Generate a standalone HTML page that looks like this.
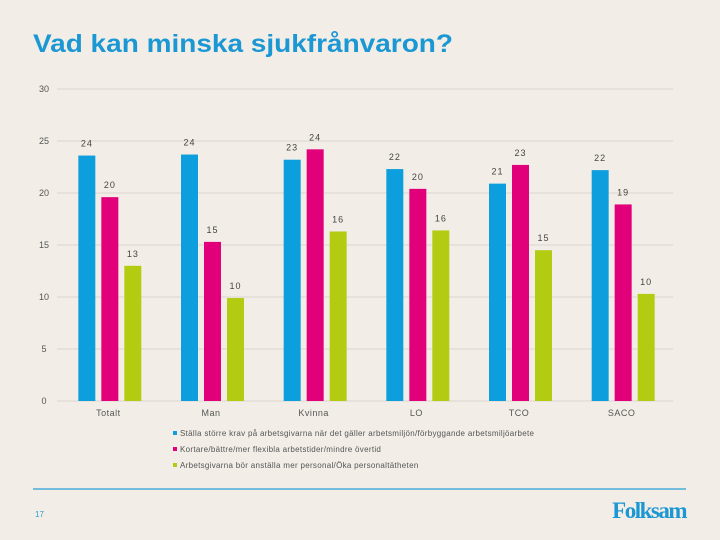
<!DOCTYPE html>
<html><head><meta charset="utf-8"><style>
body{margin:0;background:#f2eee7;}
#wrap{position:relative;width:720px;height:540px;overflow:hidden;background:#f2eee7;font-family:"Liberation Sans",sans-serif;}
</style></head><body>
<div id="wrap">
<svg id="chart" width="720" height="540">
<text x="33" y="52" font-size="25" font-weight="bold" fill="#1b97d3" textLength="420" lengthAdjust="spacingAndGlyphs" font-family="Liberation Sans, sans-serif">Vad kan minska sjukfrånvaron?</text>
<g id="grid"></g><g id="bars"></g>
<line x1="33" y1="489" x2="686" y2="489" stroke="#2a9fd6" stroke-width="1.2"/>
<text x="35" y="517" font-size="8" fill="#2a9fd6">17</text>
<text x="686" y="518" font-size="23" font-weight="bold" fill="#1b97d3" text-anchor="end" font-family="Liberation Serif, serif" letter-spacing="-1.5">Folksam</text>
</svg>
</div>
<script>
const categories=["Totalt","Man","Kvinna","LO","TCO","SACO"];
const seriesNames=["Ställa större krav på arbetsgivarna när det gäller arbetsmiljön/förbyggande arbetsmiljöarbete","Kortare/bättre/mer flexibla arbetstider/mindre övertid","Arbetsgivarna bör anställa mer personal/Öka personaltätheten"];
const seriesBlue=[23.6,23.7,23.2,22.3,20.9,22.2];
const seriesPink=[19.6,15.3,24.2,20.4,22.7,18.9];
const seriesGreen=[13.0,9.9,16.3,16.4,14.5,10.3];
const yTicks=[0,5,10,15,20,25,30];
const colors=["#0d9edd","#e2007a","#b3cc12"];
const NS="http://www.w3.org/2000/svg";
const x0=57,x1=673,y0=401,yTop=89,yMax=30;
const y=v=>y0-(y0-yTop)*v/yMax;
const band=(x1-x0)/categories.length;
function mk(t,a,p){const e=document.createElementNS(NS,t);for(const k in a)e.setAttribute(k,a[k]);p.appendChild(e);return e;}
const grid=document.getElementById('grid'),bars=document.getElementById('bars'),svg=document.getElementById('chart');
yTicks.forEach(t=>{
 const l=mk('line',{x1:x0,x2:x1,y1:y(t),y2:y(t),stroke:'#d9d4cc','stroke-width':1},grid);
 
 
 const tx=mk('text',{x:44,y:y(t)+3,'font-size':9,fill:'#555','text-anchor':'middle'},grid);
 tx.textContent=t;
 
 
});
const series=[seriesBlue,seriesPink,seriesGreen];
categories.forEach((c,i)=>{
 const cx=x0+band*(i+0.5);
 series.forEach((s,j)=>{
  const bx=cx-30+j*23;
  const r=mk('rect',{x:bx,y:y(s[i]),width:17,height:y0-y(s[i]),fill:colors[j]},bars);
  
  
  const t=mk('text',{x:bx+8.5,y:y(s[i])-9,'font-size':9,fill:'#444','text-anchor':'middle','letter-spacing':'1'},bars);
  t.textContent=Math.round(s[i]);
  
  
 });
 const t=mk('text',{x:cx,y:416,'font-size':9,fill:'#555','text-anchor':'middle','letter-spacing':'0.5'},bars);
 t.textContent=c;
 
 
});
seriesNames.forEach((n,j)=>{
 const g=mk('g',{},svg);
 
 
 mk('rect',{x:173,y:431+j*16,width:4,height:4,fill:colors[j]},g);
 const t=mk('text',{x:180,y:436+j*16,'font-size':8,fill:'#555','letter-spacing':'0.3'},g);
 t.textContent=n;
});
</script>
</body></html>
